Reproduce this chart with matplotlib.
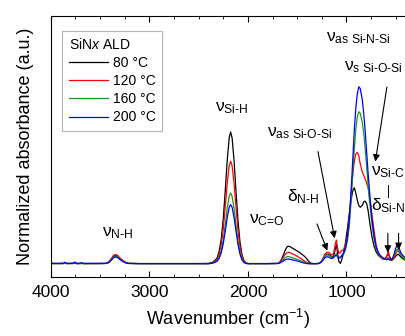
import matplotlib
matplotlib.use('Agg')
import matplotlib.pyplot as plt
from matplotlib.ticker import MultipleLocator

plt.rcParams['font.family'] = ['Liberation Sans', 'DejaVu Sans']
plt.rcParams['mathtext.fontset'] = 'custom'
plt.rcParams['mathtext.rm'] = 'Liberation Sans'
plt.rcParams['mathtext.it'] = 'Liberation Sans:italic'
plt.rcParams['mathtext.bf'] = 'Liberation Sans:bold'

# wavenumber grid (cm-1)
wavenumber = (
    [4000, 3900, 3870, 3855, 3840, 3770, 3755, 3740, 3700, 3686, 3670, 3500, 3440]
    + [3410, 3380, 3360, 3340, 3320, 3300, 3270, 3240, 3210, 3100, 2800, 2500]
    + [2400, 2360, 2330, 2310, 2290, 2270, 2250, 2230, 2210, 2190, 2175, 2160, 2140, 2120, 2100, 2080, 2060, 2040, 2020, 2000]
    + [1800, 1700, 1680, 1660, 1640, 1620, 1600, 1590, 1570, 1550, 1520, 1490, 1460, 1430, 1400, 1380, 1360, 1330, 1300, 1280]
    + [1260, 1240, 1220, 1200, 1185, 1170, 1150, 1130, 1115, 1102, 1090, 1078, 1062, 1050]
    + [1030, 1010, 990, 970, 950, 935, 920, 905, 890, 875, 860, 840, 825, 810, 795, 780, 760, 740, 720, 700, 680, 660, 640, 620]
    + [600, 585, 575, 565, 550, 535, 520, 505, 490, 478, 465, 450, 430, 415, 400]
)

abs_80 = (
    [0.003, 0.002, 0.003, 0.004, 0.002, 0.003, 0.005, 0.002, 0.002, 0.003, 0.002, 0.002, 0.003]
    + [0.010, 0.030, 0.044, 0.048, 0.043, 0.032, 0.018, 0.008, 0.003, 0.002, 0.002, 0.002]
    + [0.003, 0.009, 0.022, 0.037, 0.075, 0.142, 0.253, 0.410, 0.581, 0.711, 0.745, 0.711, 0.581, 0.406, 0.242, 0.123, 0.052, 0.019, 0.006, 0.002]
    + [0.002, 0.003, 0.008, 0.025, 0.050, 0.080, 0.098, 0.100, 0.097, 0.090, 0.080, 0.070, 0.058, 0.045, 0.028, 0.012, 0.004, 0.002, 0.002, 0.003]
    + [0.010, 0.025, 0.045, 0.055, 0.055, 0.050, 0.040, 0.045, 0.080, 0.110, 0.060, 0.015, 0.003, 0.020]
    + [0.060, 0.120, 0.200, 0.290, 0.370, 0.415, 0.430, 0.400, 0.360, 0.330, 0.320, 0.330, 0.350, 0.355, 0.340, 0.300, 0.220, 0.150, 0.100, 0.070, 0.050, 0.040, 0.035, 0.030]
    + [0.035, 0.050, 0.060, 0.045, 0.030, 0.025, 0.030, 0.040, 0.050, 0.055, 0.050, 0.040, 0.030, 0.025, 0.020]
)

abs_120 = (
    [0.002, 0.003, 0.002, 0.005, 0.003, 0.002, 0.006, 0.003, 0.002, 0.004, 0.002, 0.003, 0.003]
    + [0.012, 0.035, 0.050, 0.053, 0.047, 0.035, 0.020, 0.009, 0.003, 0.002, 0.002, 0.002]
    + [0.002, 0.007, 0.017, 0.029, 0.058, 0.110, 0.197, 0.319, 0.452, 0.554, 0.580, 0.554, 0.452, 0.316, 0.189, 0.096, 0.041, 0.015, 0.005, 0.002]
    + [0.002, 0.003, 0.007, 0.020, 0.038, 0.055, 0.064, 0.066, 0.063, 0.057, 0.050, 0.040, 0.030, 0.018, 0.008, 0.003, 0.002, 0.002, 0.002, 0.003]
    + [0.012, 0.030, 0.055, 0.065, 0.066, 0.060, 0.050, 0.060, 0.110, 0.135, 0.090, 0.060, 0.065, 0.075]
    + [0.080, 0.110, 0.160, 0.270, 0.420, 0.510, 0.580, 0.620, 0.630, 0.610, 0.565, 0.520, 0.500, 0.480, 0.455, 0.430, 0.360, 0.270, 0.190, 0.110, 0.060, 0.040, 0.030, 0.025]
    + [0.030, 0.050, 0.075, 0.040, 0.020, 0.020, 0.030, 0.050, 0.070, 0.075, 0.065, 0.050, 0.035, 0.030, 0.025]
)

abs_160 = (
    [0.002, 0.002, 0.003, 0.005, 0.002, 0.003, 0.006, 0.002, 0.003, 0.005, 0.002, 0.002, 0.003]
    + [0.009, 0.027, 0.040, 0.043, 0.038, 0.028, 0.016, 0.007, 0.003, 0.002, 0.002, 0.002]
    + [0.002, 0.005, 0.012, 0.020, 0.040, 0.076, 0.136, 0.220, 0.312, 0.382, 0.400, 0.382, 0.312, 0.218, 0.130, 0.066, 0.028, 0.010, 0.003, 0.002]
    + [0.002, 0.003, 0.005, 0.012, 0.025, 0.036, 0.041, 0.041, 0.039, 0.035, 0.030, 0.024, 0.017, 0.010, 0.004, 0.002, 0.002, 0.002, 0.002, 0.003]
    + [0.010, 0.025, 0.045, 0.050, 0.050, 0.045, 0.037, 0.040, 0.052, 0.058, 0.047, 0.038, 0.040, 0.048]
    + [0.055, 0.080, 0.130, 0.220, 0.380, 0.520, 0.650, 0.760, 0.830, 0.860, 0.850, 0.800, 0.740, 0.650, 0.550, 0.440, 0.320, 0.220, 0.140, 0.090, 0.060, 0.045, 0.035, 0.030]
    + [0.025, 0.030, 0.035, 0.025, 0.020, 0.025, 0.040, 0.060, 0.080, 0.085, 0.070, 0.050, 0.040, 0.030, 0.030]
)

abs_200 = (
    [0.003, 0.003, 0.004, 0.010, 0.003, 0.004, 0.011, 0.003, 0.004, 0.008, 0.003, 0.003, 0.003]
    + [0.008, 0.025, 0.037, 0.040, 0.035, 0.026, 0.014, 0.006, 0.003, 0.002, 0.002, 0.002]
    + [0.001, 0.004, 0.010, 0.017, 0.034, 0.064, 0.114, 0.184, 0.261, 0.320, 0.335, 0.320, 0.261, 0.183, 0.109, 0.055, 0.023, 0.008, 0.003, 0.002]
    + [0.002, 0.002, 0.004, 0.010, 0.017, 0.024, 0.027, 0.027, 0.026, 0.023, 0.020, 0.015, 0.010, 0.005, 0.002, 0.001, 0.001, 0.001, 0.002, 0.002]
    + [0.008, 0.020, 0.035, 0.040, 0.040, 0.035, 0.030, 0.035, 0.045, 0.050, 0.040, 0.032, 0.035, 0.045]
    + [0.060, 0.090, 0.150, 0.260, 0.440, 0.600, 0.760, 0.880, 0.960, 1.000, 0.990, 0.930, 0.850, 0.750, 0.630, 0.510, 0.370, 0.250, 0.160, 0.100, 0.070, 0.050, 0.040, 0.030]
    + [0.025, 0.025, 0.030, 0.025, 0.020, 0.030, 0.050, 0.080, 0.105, 0.110, 0.090, 0.065, 0.050, 0.040, 0.035]
)

labels = ['80 °C', '120 °C', '160 °C', '200 °C']
colors = ['black', '#ff0000', '#1a9a1a', '#0000ff']

# band labels: text, wavenumber, height
band_text = ['ν$_{\\text{N-H}}$', 'ν$_{\\text{Si-H}}$', 'ν$_{\\text{C=O}}$',
             'δ$_{\\text{N-H}}$', 'ν$_{\\text{as Si-O-Si}}$',
             'ν$_{\\text{as Si-N-Si}}$', 'ν$_{\\text{s Si-O-Si}}$',
             'ν$_{\\text{Si-C}}$', 'δ$_{\\text{Si-N}}$']
band_x = [3319, 2163, 1808, 1442, 1472, 877, 725, 583, 573]
band_y = [0.175, 0.88, 0.25, 0.378, 0.74, 1.277, 1.113, 0.52, 0.33]

# arrows: (tail x, tail y) -> (head x, head y)
arrow_from = [(1299, 0.226), (1289, 0.634), (590, 0.998), (580, 0.173), (471, 0.173)]
arrow_to = [(1194, 0.075), (1120, 0.145), (707, 0.578), (580, 0.064), (471, 0.079)]

fig = plt.figure(figsize=(4.06, 3.36), dpi=100)
ax = fig.add_axes([0.125, 0.1765, 0.874, 0.776])

for ys, c, lab in zip([abs_80, abs_120, abs_160, abs_200], colors, labels):
    ax.plot(wavenumber, ys, color=c, lw=0.9, label=lab)

ax.set_xlim(4000, 400)
ax.set_ylim(-0.072, 1.40)
ax.set_xticks([4000, 3000, 2000, 1000])
ax.xaxis.set_minor_locator(MultipleLocator(250))
ax.tick_params(axis='x', which='both', direction='in', top=True, labelsize=12.5, pad=6)
ax.tick_params(axis='x', which='major', length=4, width=0.8)
ax.tick_params(axis='x', which='minor', length=2.5, width=0.6)
ax.set_yticks([])
ax.set_xlabel('Wavenumber (cm$^{-1}$)', fontsize=13, labelpad=5)
ax.set_ylabel('Normalized absorbance (a.u.)', fontsize=13, labelpad=12)

for t, x, y in zip(band_text, band_x, band_y):
    ax.text(x, y, t, ha='center', va='center', fontsize=12.5)

for (x0, y0), (x1, y1) in zip(arrow_from, arrow_to):
    ax.annotate('', xy=(x1, y1), xytext=(x0, y0),
                arrowprops=dict(arrowstyle='-|>', color='black', lw=0.8,
                                mutation_scale=10, shrinkA=0, shrinkB=0))
ax.plot([580, 580], [0.378, 0.446], color='black', lw=0.7)

leg = ax.legend(title='SiN$x$ ALD', loc='upper left', bbox_to_anchor=(0.033, 0.944),
                borderaxespad=0, fontsize=10, title_fontsize=10, fancybox=False,
                edgecolor='#a0a0a0', handlelength=2.8, handletextpad=0.4,
                labelspacing=0.3, borderpad=0.45, alignment='left')
leg.get_frame().set_linewidth(0.8)

fig.savefig('out.png', dpi=100)
